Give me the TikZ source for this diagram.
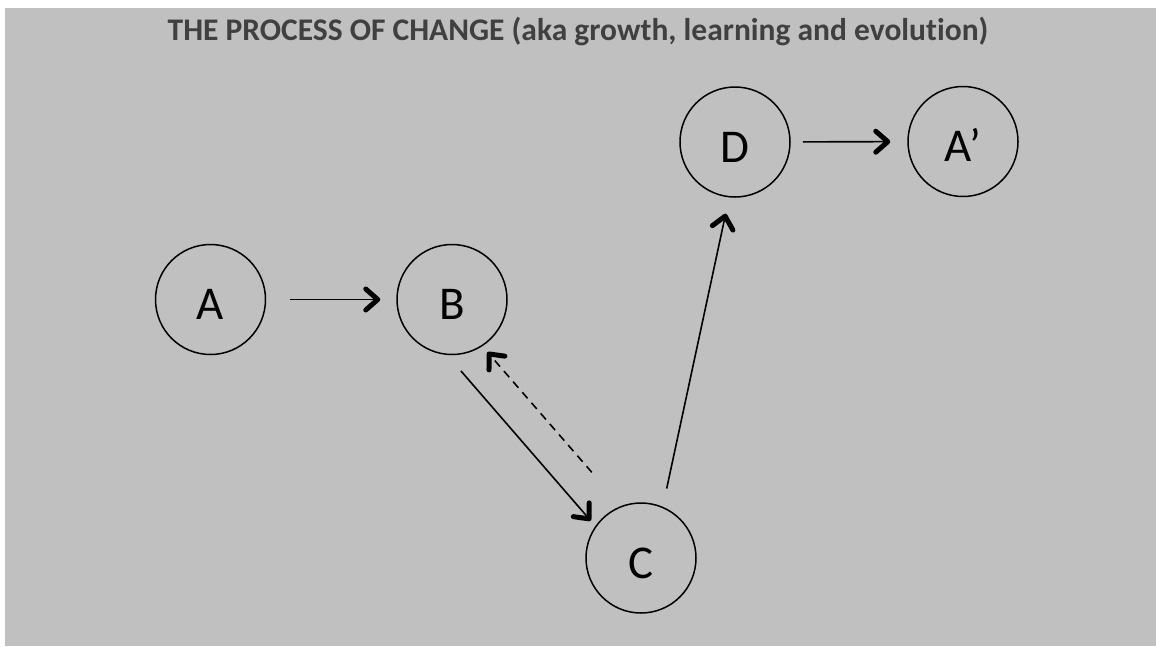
\documentclass[tikz,border=0pt]{standalone}
\usepackage{fontspec}
\setmainfont{Carlito}[Ligatures=NoCommon]
\usetikzlibrary{arrows.meta}
\definecolor{bggray}{HTML}{C0C0C0}
\definecolor{titlegray}{HTML}{404040}
\begin{document}
\begin{tikzpicture}[x=1pt,y=-1pt,
  stage/.style={circle,draw=black,line width=1.5pt,minimum size=110pt,inner sep=0pt,
    font=\fontsize{47}{47}\selectfont,text height=40pt,text depth=0pt},
  flow/.style={line width=1.6pt,-{Straight Barb[length=12pt,width=21pt,line width=5pt,round]}},
  back/.style={flow,dash pattern=on 8pt off 6pt}]
\useasboundingbox (0,0) rectangle (1156,646);
\fill[white] (0,0) rectangle (1156,646);
\fill[bggray] (5,8) rectangle (1156,646);
\node[anchor=base,text=titlegray,font=\bfseries\fontsize{31.5}{31.5}\selectfont] (title) at (578,40) {THE PROCESS OF CHANGE (aka growth, learning and evolution)};
\node[stage] (A) at (210.5,299.5) {A};
\node[stage] (B) at (452,299.5) {B};
\node[stage] (C) at (641,558) {C};
\node[stage] (D) at (735,142) {D};
\node[stage] (A2) at (963,141.5) {A’};
\draw[flow,shorten <=24pt,shorten >=16pt] (A) -- (B);
\draw[flow,shorten <=12pt,shorten >=17pt] (D) -- (A2);
\draw[flow,shorten <=21pt,shorten >=7pt] (B.-95) -- (C.145);
\draw[back,shorten <=44.6pt,shorten >=7.7pt] (C.111) -- (B.-57);
\draw[flow,shorten <=18.6pt,shorten >=16.6pt] (C.67.5) -- (D.-96);
\end{tikzpicture}
\end{document}
